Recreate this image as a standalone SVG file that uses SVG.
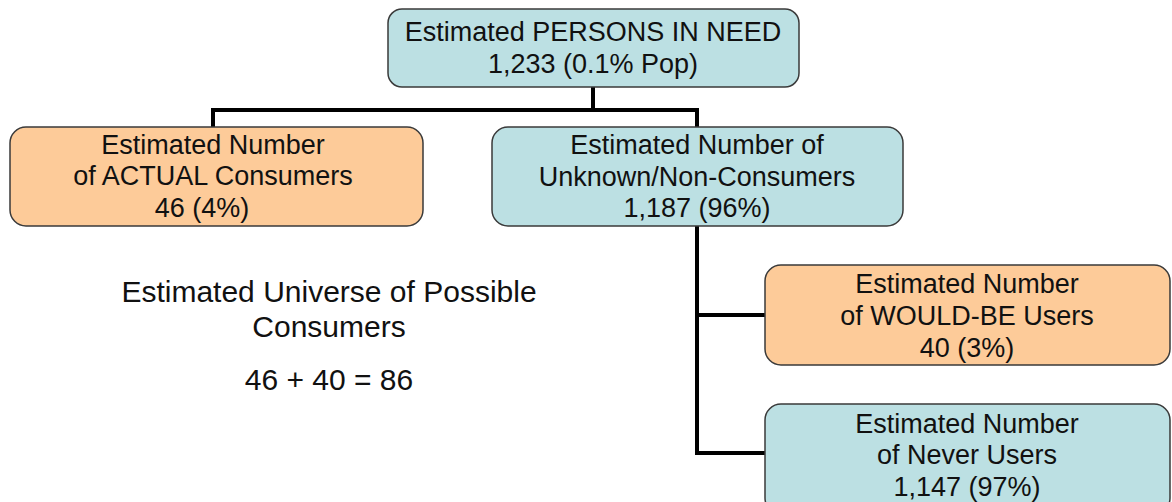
<svg xmlns="http://www.w3.org/2000/svg" width="1172" height="502" viewBox="0 0 1172 502">
<style>
.box{stroke:#3a3a3a;stroke-width:1.5}
.blue{fill:#bce0e3}
.orange{fill:#fdcb99}
.t{font-family:"Liberation Sans",Arial,sans-serif;font-size:27px;fill:#111;text-anchor:middle}
.u{font-family:"Liberation Sans",Arial,sans-serif;font-size:30px;fill:#111;text-anchor:middle}
.c{fill:none;stroke:#000;stroke-width:4}
</style>
<rect width="1172" height="502" fill="#fff"/>
<g id="connectors">
<path class="c" d="M593 87V110M213 110H698M213 108V127M697 108V127"/>
<path class="c" d="M697 226V455M695 315H765M695 453H765"/>
</g>
<g id="n-top">
<rect class="box blue" x="388" y="9" width="411" height="78" rx="14"/>
<text class="t" x="593" y="41">Estimated PERSONS IN NEED</text>
<text class="t" x="593" y="73">1,233 (0.1% Pop)</text>
</g>
<g id="n-actual">
<rect class="box orange" x="10" y="127" width="413" height="99" rx="16"/>
<text class="t" x="213" y="154">Estimated Number</text>
<text class="t" x="213" y="185">of ACTUAL Consumers</text>
<text class="t" x="202" y="217">46 (4%)</text>
</g>
<g id="n-unknown">
<rect class="box blue" x="492" y="127" width="411" height="99" rx="16"/>
<text class="t" x="697" y="154">Estimated Number of</text>
<text class="t" x="697" y="186">Unknown/Non-Consumers</text>
<text class="t" x="697" y="217">1,187 (96%)</text>
</g>
<g id="n-wouldbe">
<rect class="box orange" x="765" y="265" width="405" height="100" rx="16"/>
<text class="t" x="967" y="293">Estimated Number</text>
<text class="t" x="967" y="325">of WOULD-BE Users</text>
<text class="t" x="967" y="357">40 (3%)</text>
</g>
<g id="n-never">
<rect class="box blue" x="765" y="404" width="405" height="110" rx="16"/>
<text class="t" x="967" y="433">Estimated Number</text>
<text class="t" x="967" y="464">of Never Users</text>
<text class="t" x="967" y="496">1,147 (97%)</text>
</g>
<g id="universe">
<text class="u" x="329" y="302">Estimated Universe of Possible</text>
<text class="u" x="329" y="337">Consumers</text>
<text class="u" x="329" y="390">46 + 40 = 86</text>
</g>
</svg>
